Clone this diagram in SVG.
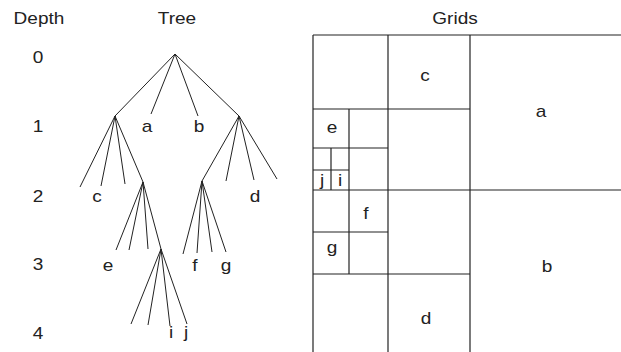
<svg xmlns="http://www.w3.org/2000/svg" width="621" height="352" viewBox="0 0 621 352">
<style>
text{font-family:"Liberation Sans",Arial,sans-serif;font-size:17px;fill:#222;text-anchor:middle}
.e line{stroke:#222;stroke-width:1}
.g line{stroke:#222;stroke-width:1.2}
</style>
<rect width="621" height="352" fill="#fff"/>
<g id="headers">
<text transform="translate(39 24) scale(1.12 1)">Depth</text>
<text transform="translate(177 24) scale(1.12 1)">Tree</text>
<text transform="translate(455 24) scale(1.12 1)">Grids</text>
</g>
<g id="depths">
<text transform="translate(38 63) scale(1.12 1)">0</text>
<text transform="translate(38 132) scale(1.12 1)">1</text>
<text transform="translate(38 202) scale(1.12 1)">2</text>
<text transform="translate(38 270) scale(1.12 1)">3</text>
<text transform="translate(38 339) scale(1.12 1)">4</text>
</g>
<g id="connectors" class="e">
<line x1="175" y1="54" x2="115" y2="116"/>
<line x1="175" y1="54" x2="151" y2="114"/>
<line x1="175" y1="54" x2="198" y2="116"/>
<line x1="175" y1="54" x2="239" y2="116"/>
<line x1="115" y1="116" x2="80" y2="187"/>
<line x1="115" y1="116" x2="101" y2="186"/>
<line x1="115" y1="116" x2="125" y2="184"/>
<line x1="115" y1="116" x2="143" y2="182"/>
<line x1="239" y1="116" x2="202" y2="181"/>
<line x1="239" y1="116" x2="226" y2="181"/>
<line x1="239" y1="116" x2="254" y2="180"/>
<line x1="239" y1="116" x2="277" y2="179"/>
<line x1="143" y1="182" x2="116" y2="250"/>
<line x1="143" y1="182" x2="129" y2="250"/>
<line x1="143" y1="182" x2="148" y2="249"/>
<line x1="143" y1="182" x2="161" y2="249"/>
<line x1="202" y1="181" x2="183" y2="254"/>
<line x1="202" y1="181" x2="197" y2="253"/>
<line x1="202" y1="181" x2="212" y2="252"/>
<line x1="202" y1="181" x2="226" y2="252"/>
<line x1="161" y1="249" x2="131" y2="324"/>
<line x1="161" y1="249" x2="148" y2="325"/>
<line x1="161" y1="249" x2="170" y2="326"/>
<line x1="161" y1="249" x2="187" y2="324"/>
</g>
<g id="tree-labels">
<text transform="translate(147 132) scale(1.12 1)">a</text>
<text transform="translate(199 132) scale(1.12 1)">b</text>
<text transform="translate(97 202) scale(1.12 1)">c</text>
<text transform="translate(255 202) scale(1.12 1)">d</text>
<text transform="translate(108 271) scale(1.12 1)">e</text>
<text transform="translate(195 271) scale(1.12 1)">f</text>
<text transform="translate(226 271) scale(1.12 1)">g</text>
<text transform="translate(171 338) scale(1.12 1)">i</text>
<text transform="translate(186 338) scale(1.12 1)">j</text>
</g>
<g id="grid" class="g">
<line x1="313" y1="35" x2="621" y2="35"/>
<line x1="313" y1="35" x2="313" y2="352"/>
<line x1="388" y1="35" x2="388" y2="352"/>
<line x1="470" y1="35" x2="470" y2="352"/>
<line x1="313" y1="109" x2="470" y2="109"/>
<line x1="313" y1="190" x2="621" y2="190"/>
<line x1="313" y1="274" x2="470" y2="274"/>
<line x1="313" y1="148" x2="388" y2="148"/>
<line x1="349" y1="109" x2="349" y2="190"/>
<line x1="331" y1="148" x2="331" y2="190"/>
<line x1="313" y1="170" x2="349" y2="170"/>
<line x1="349" y1="190" x2="349" y2="274"/>
<line x1="313" y1="232" x2="388" y2="232"/>
</g>
<g id="grid-labels">
<text transform="translate(425 81) scale(1.12 1)">c</text>
<text transform="translate(541 117) scale(1.12 1)">a</text>
<text transform="translate(332 133) scale(1.12 1)">e</text>
<text transform="translate(322 186) scale(1.12 1)">j</text>
<text transform="translate(340 186) scale(1.12 1)">i</text>
<text transform="translate(366 219) scale(1.12 1)">f</text>
<text transform="translate(332 253) scale(1.12 1)">g</text>
<text transform="translate(547 272) scale(1.12 1)">b</text>
<text transform="translate(426 324) scale(1.12 1)">d</text>
</g>
</svg>
